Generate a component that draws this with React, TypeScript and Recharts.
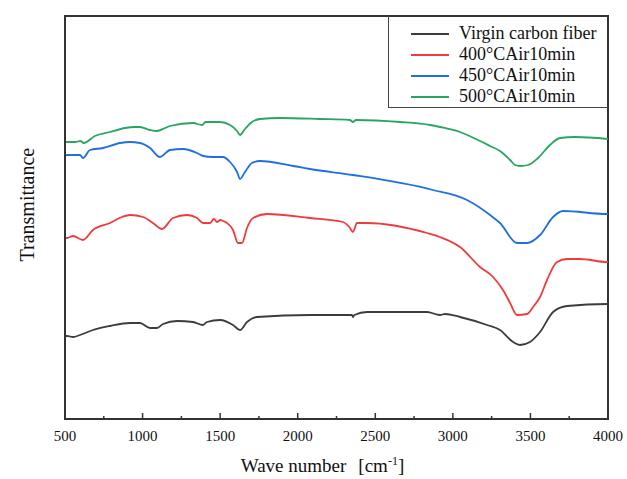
import {Legend, Line, LineChart, ReferenceArea, XAxis, YAxis} from 'recharts'

// wavenumber (cm-1) and transmittance (arbitrary units, curves offset)
const virginWave = [500, 513, 552, 597, 680, 790, 919, 983, 1048, 1093, 1132, 1222, 1325, 1390, 1415, 1499, 1583, 1628, 1673, 1738, 2079, 2350, 2356, 2365, 2447, 2833, 2917, 2950, 3046, 3220, 3304, 3388, 3433, 3497, 3562, 3646, 3736, 3994, 4000]
const virginT = [83, 83, 82, 84, 89, 93, 96, 96, 91, 91, 95, 98, 97, 94, 97, 99, 94, 89, 97, 102, 104, 104, 102, 104, 107, 107, 104, 105, 102, 94, 89, 77, 74, 77, 87, 107, 113, 115, 115]

const air400Wave = [500, 513, 552, 616, 680, 790, 867, 919, 1003, 1067, 1125, 1196, 1286, 1351, 1390, 1435, 1460, 1480, 1500, 1520, 1544, 1583, 1615, 1641, 1673, 1712, 1802, 2079, 2292, 2337, 2356, 2382, 2447, 2833, 2917, 3046, 3175, 3259, 3323, 3369, 3414, 3478, 3517, 3562, 3607, 3671, 3736, 3820, 3994, 4000]
const air400T = [181, 181, 183, 179, 189, 196, 202, 204, 202, 196, 190, 201, 204, 201, 196, 196, 200, 197, 199, 198, 196, 189, 176, 176, 191, 201, 205, 201, 197, 191, 187, 196, 196, 186, 182, 172, 152, 142, 129, 116, 104, 105, 112, 122, 139, 157, 160, 160, 157, 157]

const air450Wave = [500, 513, 597, 616, 661, 745, 855, 919, 983, 1048, 1112, 1177, 1261, 1351, 1390, 1454, 1518, 1564, 1609, 1628, 1660, 1705, 1757, 1970, 2079, 2356, 2872, 3091, 3240, 3304, 3414, 3478, 3562, 3646, 3710, 3994, 4000]
const air450T = [263, 264, 264, 261, 269, 271, 276, 277, 276, 271, 262, 269, 270, 266, 263, 262, 262, 257, 247, 240, 247, 256, 258, 253, 250, 244, 229, 219, 204, 196, 176, 176, 184, 202, 208, 205, 205]

const air500Wave = [500, 565, 600, 620, 693, 790, 887, 951, 983, 1048, 1093, 1145, 1177, 1325, 1385, 1405, 1499, 1564, 1609, 1628, 1660, 1705, 1757, 1886, 2144, 2337, 2356, 2376, 2660, 2853, 2917, 3046, 3175, 3240, 3304, 3369, 3401, 3433, 3485, 3549, 3626, 3691, 3788, 4000]
const air500T = [277, 277, 278, 276, 283, 287, 291, 292, 292, 289, 288, 291, 293, 296, 294, 297, 297, 294, 288, 284, 290, 297, 300, 301, 300, 299, 297, 299, 297, 294, 292, 287, 278, 273, 268, 259, 254, 253, 254, 261, 274, 281, 282, 280]

const waveTicks = [500, 750, 1000, 1250, 1500, 1750, 2000, 2250, 2500, 2750, 3000, 3250, 3500, 3750, 4000]

const toRows = (w: number[], t: number[]) => w.map((x, i) => ({wave: x, t: t[i]}))

const series = [
    {name: 'Virgin carbon fiber', color: '#3c3c3c', data: toRows(virginWave, virginT)},
    {name: '400°CAir10min', color: '#ee3b3b', data: toRows(air400Wave, air400T)},
    {name: '450°CAir10min', color: '#1f6fe3', data: toRows(air450Wave, air450T)},
    {name: '500°CAir10min', color: '#29a561', data: toRows(air500Wave, air500T)},
]

const font = '"Liberation Serif", "Times New Roman", serif'

const WaveTick = (props: any) => {
    const {x, y, payload} = props
    const major = payload.value % 500 === 0
    return (
        <g>
            <line x1={x} x2={x} y1={y} y2={y - (major ? 6 : 3)} stroke='#333' strokeWidth={1.5} />
            {major && (
                <text x={x} y={y + 22} textAnchor='middle' fontSize={15} fontFamily={font} fill='#111'>
                    {payload.value}
                </text>
            )}
        </g>
    )
}

const XLabel = (props: any) => {
    const {viewBox} = props
    const cx = viewBox.x + viewBox.width / 2 - 14
    return (
        <text x={cx} y={viewBox.y + 53} textAnchor='middle' fontSize={19} fontFamily={font} fill='#111'>
            <tspan>Wave number</tspan>
            <tspan dx={12}>[cm</tspan>
            <tspan dy={-7} fontSize={12}>-1</tspan>
            <tspan dy={7}>]</tspan>
        </text>
    )
}

const LegendBox = (props: any) => {
    const order = series.map((s) => s.name)
    const payload = [...(props.payload || [])].sort((a: any, b: any) => order.indexOf(a.value) - order.indexOf(b.value))
    return (
        <div style={{border: '1.5px solid #444', borderRight: 'none', borderTop: 'none', height: '100%', boxSizing: 'border-box', paddingTop: 7}}>
            {payload.map((p: any) => (
                <div key={p.value} style={{display: 'flex', alignItems: 'center', height: 21, fontFamily: font, fontSize: 18, color: '#111'}}>
                    <span style={{display: 'inline-block', width: 38, height: 2, background: p.color, marginLeft: 22, marginRight: 10}} />
                    <span>{p.value}</span>
                </div>
            ))}
        </div>
    )
}

const App = () => {
    return (
        <div>
            <style>{'body{margin:0}'}</style>
            <LineChart width={627} height={479} margin={{top: 16, right: 19, left: 0, bottom: 0}}>
                <XAxis
                    dataKey='wave'
                    type='number'
                    domain={[500, 4000]}
                    ticks={waveTicks}
                    interval={0}
                    allowDataOverflow
                    height={60}
                    tickSize={0}
                    tickMargin={0}
                    tickLine={false}
                    tick={<WaveTick />}
                    axisLine={{stroke: '#333', strokeWidth: 2}}
                    label={<XLabel />}
                />
                <YAxis
                    type='number'
                    domain={[0, 403]}
                    width={65}
                    tick={false}
                    tickLine={false}
                    axisLine={{stroke: '#333', strokeWidth: 2}}
                    label={{value: 'Transmittance', angle: -90, position: 'insideLeft', dx: 22, dy: 44, fontSize: 20, fontFamily: font, fill: '#111'}}
                />
                <ReferenceArea x1={500} x2={4000} y1={0} y2={403} fill='none' fillOpacity={0} stroke='#333' strokeOpacity={1} strokeWidth={2} ifOverflow='visible' />
                <Legend
                    layout='vertical'
                    align='center'
                    verticalAlign='middle'
                    content={<LegendBox />}
                    wrapperStyle={{left: 388, top: 16, width: 220, height: 92, bottom: 'auto', right: 'auto'}}
                />
                {series.map((s) => (
                    <Line
                        key={s.name}
                        data={s.data}
                        dataKey='t'
                        name={s.name}
                        stroke={s.color}
                        strokeWidth={1.8}
                        dot={false}
                        activeDot={false}
                        type='monotone'
                        isAnimationActive={false}
                    />
                ))}
            </LineChart>
        </div>
    )
}

export default App
